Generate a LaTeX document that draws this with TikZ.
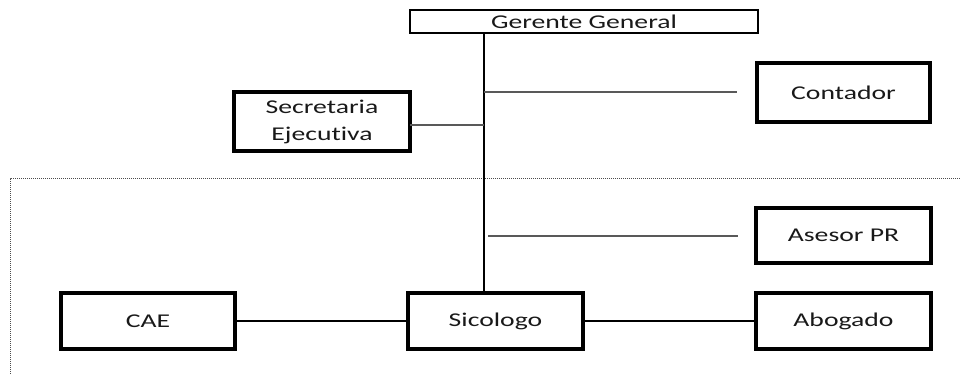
\documentclass[tikz,border=0pt]{standalone}
\usepackage{fontspec}
\setmainfont[FakeStretch=1.42,Ligatures={NoCommon}]{Carlito}
\begin{document}
\begin{tikzpicture}[x=1pt,y=-1pt,
  box/.style={draw=black,line width=3.2pt,fill=white,inner sep=0pt,align=center,
    font=\fontsize{19.5}{27}\selectfont,text=black!90},
  topbox/.style={draw=black,line width=2pt,fill=white,inner sep=0pt,align=center,
    font=\fontsize{19.5}{27}\selectfont,text=black!90},
  link/.style={draw=black!65,line width=1.3pt},
  mainlink/.style={draw=black,line width=1.4pt},
  area/.style={draw=black!70,line width=1pt,dash pattern=on 1pt off 1pt}]
\useasboundingbox (0,0) rectangle (960,374);

% dashed frame of the lower area
\draw[area] (10,380) -- (10,179) -- (965,179);

% positions
\node[topbox,minimum width=348pt,minimum height=23pt] (gg) at (584,21.5) {Gerente General};
\node[box,minimum width=176pt,minimum height=59pt] (sec) at (322,121.5) {Secretaria\\Ejecutiva};
\node[box,minimum width=173pt,minimum height=59pt] (con) at (843.5,92.5) {Contador};
\node[box,minimum width=175pt,minimum height=55pt] (ase) at (843.5,235.5) {Asesor PR};
\node[box,minimum width=174pt,minimum height=56pt] (cae) at (148,321) {CAE};
\node[box,minimum width=175pt,minimum height=56pt] (sic) at (495.5,321) {Sicologo};
\node[box,minimum width=175pt,minimum height=56pt] (abo) at (843.5,321) {Abogado};

% trunk and branches
\coordinate (tc) at (484,92);
\coordinate (ce) at (737,92);
\coordinate (ts) at (484,125);
\coordinate (se) at (410,125);
\coordinate (ta) at (488,236);
\coordinate (ae) at (738,236);

\draw[mainlink] (gg.south -| tc) -- (sic.north -| tc);
\draw[link] (tc) -- (ce);
\draw[link] (se) -- (ts);
\draw[link] (ta) -- (ae);
\draw[mainlink] (cae.east) -- (sic.west);
\draw[mainlink] (sic.east) -- (abo.west);
\end{tikzpicture}
\end{document}
